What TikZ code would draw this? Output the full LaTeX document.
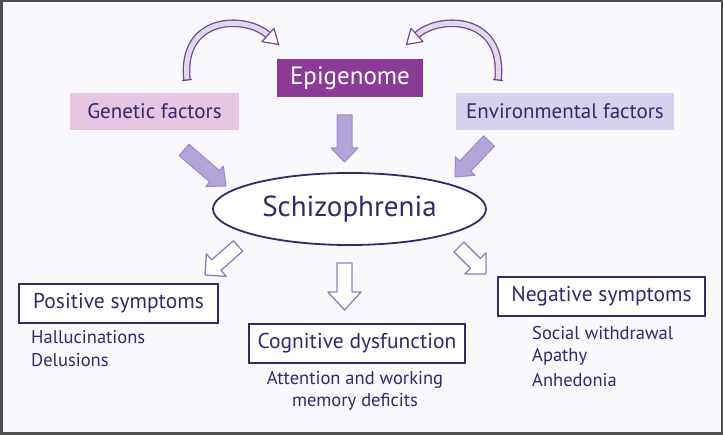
\documentclass[tikz,border=0pt]{standalone}
\usepackage{fontspec}
\setmainfont{PT Sans}
\usetikzlibrary{calc,shapes.geometric}
\definecolor{navy}{HTML}{2E2B6E}
\definecolor{bgc}{HTML}{F9F8FD}
\definecolor{framec}{HTML}{505050}
\definecolor{epifill}{HTML}{8C3A98}
\definecolor{genfill}{HTML}{E6C6E0}
\definecolor{envfill}{HTML}{D6D2EE}
\definecolor{arrfill}{HTML}{B3A5DA}
\definecolor{arrdraw}{HTML}{9A8BC6}
\definecolor{hollowdraw}{HTML}{8A7FC8}
\definecolor{curvedraw}{HTML}{7A40A8}
\definecolor{curvefill}{HTML}{DCDCE2}
\newcommand\blkarrow[6]{%
  \coordinate (tmph) at ($(#3)!#6!(#2)$);
  \draw[#1] ($(#2)!#4!90:(#3)$) -- ($(tmph)!#4!90:(#3)$) -- ($(tmph)!#5!90:(#3)$) -- (#3)
    -- ($(tmph)!#5!-90:(#3)$) -- ($(tmph)!#4!-90:(#3)$) -- ($(#2)!#4!-90:(#3)$) -- cycle;
}
\newcommand\curvehead[3]{% #1 base centre, #2 tip, #3 half width
  \draw[curvedraw, fill=white, line width=1.2pt, line join=round]
    ($(#1)!#3!90:(#2)$) -- (#2) -- ($(#1)!#3!-90:(#2)$) -- cycle;
}
\tikzset{
  topbox/.style={text=navy, font=\fontsize{21}{24}\selectfont, inner sep=0pt},
  symbox/.style={draw=navy, line width=1.5pt, fill=white, text=navy, font=\fontsize{21.5}{24}\selectfont, inner sep=0pt},
  item/.style={text=navy, font=\fontsize{18.5}{21}\selectfont, inner sep=0pt},
  filledarr/.style={fill=arrfill, draw=arrdraw, line width=1pt, line join=round},
  hollowarr/.style={fill=white, draw=hollowdraw, line width=1.3pt, line join=round},
  curveshaft/.style={draw=curvedraw, line width=1.3pt, double=curvefill, double distance=5pt},
}
\begin{document}
\begin{tikzpicture}[x=1pt,y=-1pt]
\useasboundingbox (0,0) rectangle (723,435);
\draw[framec, line width=2.5pt, fill=bgc] (1.25,1.25) rectangle (721.75,433.75);

% top boxes
\node[topbox, fill=epifill, text=white, font=\fontsize{25}{28}\selectfont, minimum width=146pt, minimum height=38pt] (epi) at (350,78) {Epigenome};
\node[topbox, fill=genfill, minimum width=169pt, minimum height=37pt] (gen) at (154.5,111.5) {Genetic factors};
\node[topbox, fill=envfill, minimum width=218pt, minimum height=37pt] (env) at (565,111.5) {Environmental factors};

% central ellipse
\node[ellipse, draw=navy, line width=1.8pt, fill=white, text=navy, font=\fontsize{29}{32}\selectfont, minimum width=273pt, minimum height=72pt, inner sep=0pt] (sch) at (349.5,209) {Schizophrenia};

% symptom boxes
\node[symbox, minimum width=199pt, minimum height=39pt] (pos) at (118.5,303.5) {Positive symptoms};
\node[symbox, minimum width=216pt, minimum height=39pt] (cog) at (357,343.5) {Cognitive dysfunction};
\node[symbox, minimum width=207pt, minimum height=39pt] (neg) at (601.5,296.5) {Negative symptoms};

% lists
\node[item, anchor=west] (hal) at (31,337) {Hallucinations};
\node[item, anchor=west] (del) at (31,360) {Delusions};
\node[item] (att) at (355,380) {Attention and working};
\node[item] (mem) at (355,402) {memory deficits};
\node[item, anchor=west] (soc) at (532,333) {Social withdrawal};
\node[item, anchor=west] (apa) at (532,357) {Apathy};
\node[item, anchor=west] (anh) at (532,380) {Anhedonia};

% filled arrows into schizophrenia
\coordinate (ga) at (184,150); \coordinate (gb) at (226,186);
\coordinate (ea) at (344.5,115); \coordinate (eb) at (344.5,162);
\coordinate (va) at (489,141); \coordinate (vb) at (455,177);
\blkarrow{filledarr}{ga}{gb}{7.5pt}{13.5pt}{15pt}
\blkarrow{filledarr}{ea}{eb}{7.5pt}{13.5pt}{14pt}
\blkarrow{filledarr}{va}{vb}{7.5pt}{13.5pt}{15pt}

% hollow arrows out of schizophrenia
\coordinate (pa) at (238,246); \coordinate (pb) at (205,275);
\coordinate (ca) at (344.5,263); \coordinate (cb) at (344.5,310);
\coordinate (na) at (459,247); \coordinate (nb) at (486,274);
\blkarrow{hollowarr}{pa}{pb}{7pt}{15pt}{15pt}
\blkarrow{hollowarr}{ca}{cb}{7.5pt}{16.5pt}{18pt}
\blkarrow{hollowarr}{na}{nb}{7pt}{15pt}{15pt}

% curved arrows
\coordinate (l0) at (187,80); \coordinate (le) at (268,35); \coordinate (lt) at (278.5,44.5);
\coordinate (r0) at (498,80); \coordinate (re) at (417,35); \coordinate (rt) at (406.5,44.5);
\draw[curveshaft] (l0) .. controls (180,15) and (246,15) .. (le);
\draw[curveshaft] (r0) .. controls (505,15) and (439,15) .. (re);
\draw[curvedraw, line width=1.3pt] ($(l0)!4.8pt!90:(180,15)$) -- ($(l0)!4.8pt!-90:(180,15)$);
\draw[curvedraw, line width=1.3pt] ($(r0)!4.8pt!90:(505,15)$) -- ($(r0)!4.8pt!-90:(505,15)$);
\curvehead{le}{lt}{9pt}
\curvehead{re}{rt}{9pt}
\end{tikzpicture}
\end{document}
